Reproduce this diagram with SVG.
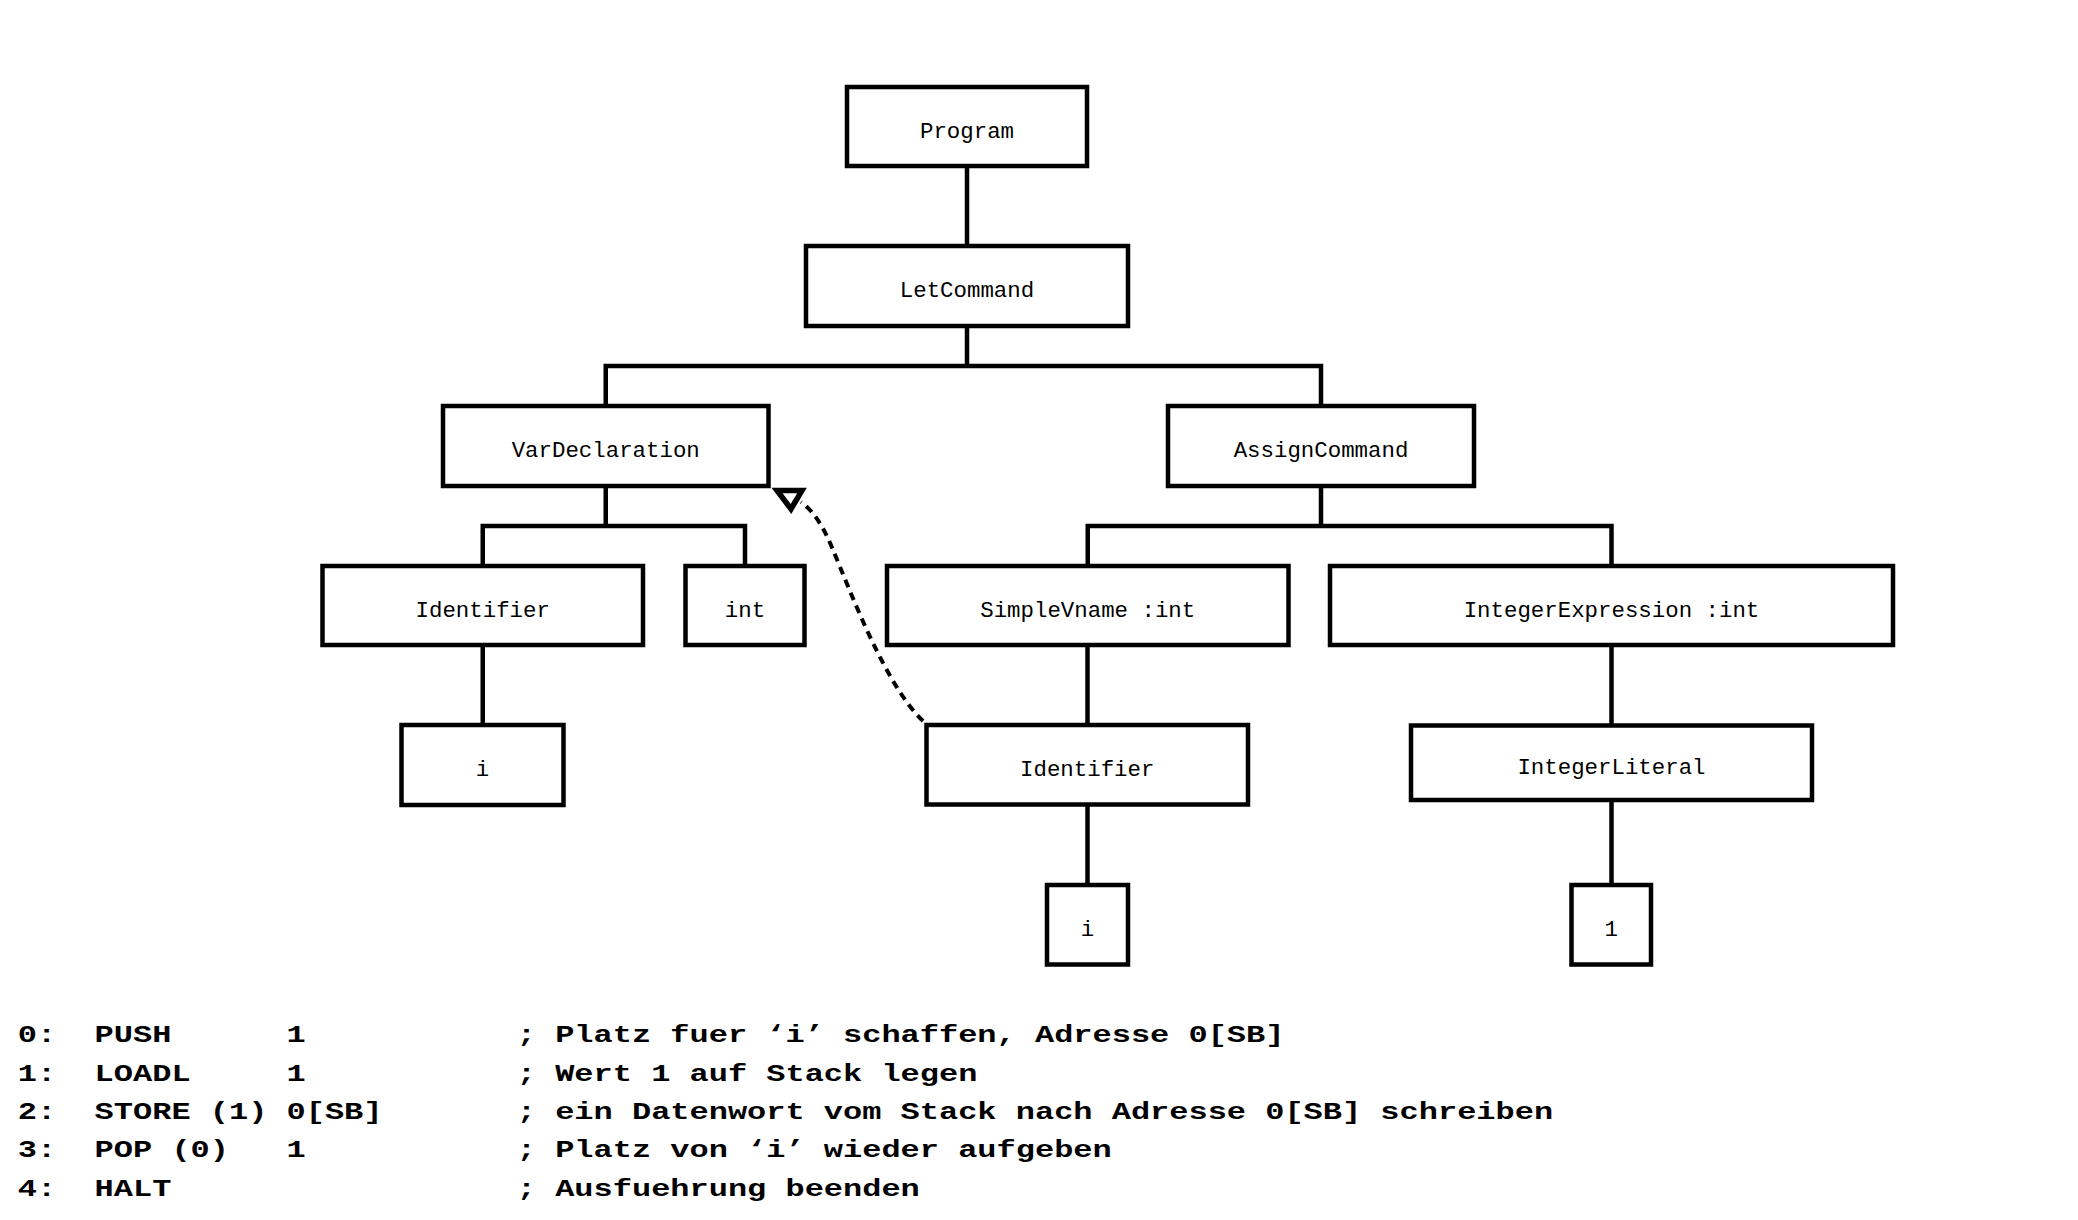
<svg xmlns="http://www.w3.org/2000/svg" width="2078" height="1220" viewBox="0 0 2078 1220">
  <style>
    .box { fill: #fff; stroke: #000; stroke-width: 4.5; }
    .lbl { font-family: "Liberation Mono", "Courier New", monospace; font-size: 22.4px; text-anchor: middle; fill: #000; }
    .edge { fill: none; stroke: #000; stroke-width: 4.5; stroke-linejoin: miter; stroke-linecap: butt; }
    .dash { fill: none; stroke: #000; stroke-width: 4; stroke-dasharray: 8 6; }
    .head { fill: #fff; stroke: #000; stroke-width: 5.5; stroke-linejoin: miter; }
    .code { font-family: "Liberation Mono", "Courier New", monospace; font-weight: bold; font-size: 24px; fill: #000; white-space: pre; }
  </style>
  <rect width="2078" height="1220" fill="#fff"/>
  <g id="connectors">
    <path class="edge" d="M967 166 V246"/>
    <path class="edge" d="M967 326 V366 M605.75 406 V366 H1321 V406"/>
    <path class="edge" d="M605.75 486 V526 M482.75 566 V526 H745 V566"/>
    <path class="edge" d="M1321 486 V526 M1087.75 566 V526 H1611.5 V566"/>
    <path class="edge" d="M482.75 645 V725"/>
    <path class="edge" d="M1087.5 645 V725"/>
    <path class="edge" d="M1087.5 804.5 V885"/>
    <path class="edge" d="M1611.5 645 V725.5"/>
    <path class="edge" d="M1611.5 800 V885"/>
    <path class="dash" d="M923 721 C885 685, 850 590, 833 550 C825 530, 815 512, 801 502"/>
    <polygon class="head" points="777,490.5 802,490.5 791,509"/>
  </g>
  <g id="n-program"><rect class="box" x="847" y="87" width="240" height="79"/><text class="lbl" x="967" y="137.5">Program</text></g>
  <g id="n-letcommand"><rect class="box" x="806" y="246" width="322" height="80"/><text class="lbl" x="967" y="297">LetCommand</text></g>
  <g id="n-vardeclaration"><rect class="box" x="443" y="406" width="325.5" height="80"/><text class="lbl" x="605.75" y="457">VarDeclaration</text></g>
  <g id="n-assigncommand"><rect class="box" x="1168" y="406" width="306" height="80"/><text class="lbl" x="1321" y="457">AssignCommand</text></g>
  <g id="n-identifier1"><rect class="box" x="322.5" y="566" width="320.5" height="79"/><text class="lbl" x="482.75" y="616.5">Identifier</text></g>
  <g id="n-int"><rect class="box" x="685.5" y="566" width="119" height="79"/><text class="lbl" x="745" y="616.5">int</text></g>
  <g id="n-simplevname"><rect class="box" x="887" y="566" width="401.5" height="79"/><text class="lbl" x="1087.75" y="616.5">SimpleVname :int</text></g>
  <g id="n-integerexpression"><rect class="box" x="1330" y="566" width="563" height="79"/><text class="lbl" x="1611.5" y="616.5">IntegerExpression :int</text></g>
  <g id="n-i1"><rect class="box" x="401.5" y="725" width="162" height="80"/><text class="lbl" x="482.5" y="775.5">i</text></g>
  <g id="n-identifier2"><rect class="box" x="926.5" y="725" width="321.5" height="79.5"/><text class="lbl" x="1087.25" y="775.5">Identifier</text></g>
  <g id="n-integerliteral"><rect class="box" x="1411" y="725.5" width="401" height="74.5"/><text class="lbl" x="1611.5" y="773.5">IntegerLiteral</text></g>
  <g id="n-i2"><rect class="box" x="1047" y="885" width="81" height="79.5"/><text class="lbl" x="1087.5" y="935.5">i</text></g>
  <g id="n-one"><rect class="box" x="1571.5" y="885" width="79.5" height="79.5"/><text class="lbl" x="1611.25" y="935.5">1</text></g>
  <g id="code" transform="scale(1.3333,1)">
    <text class="code" xml:space="preserve" x="13.4" y="1042.3">0:  PUSH      1           ; Platz fuer ‘i’ schaffen, Adresse 0[SB]</text>
    <text class="code" xml:space="preserve" x="13.4" y="1080.7">1:  LOADL     1           ; Wert 1 auf Stack legen</text>
    <text class="code" xml:space="preserve" x="13.4" y="1119.1">2:  STORE (1) 0[SB]       ; ein Datenwort vom Stack nach Adresse 0[SB] schreiben</text>
    <text class="code" xml:space="preserve" x="13.4" y="1157.5">3:  POP (0)   1           ; Platz von ‘i’ wieder aufgeben</text>
    <text class="code" xml:space="preserve" x="13.4" y="1195.9">4:  HALT                  ; Ausfuehrung beenden</text>
  </g>
</svg>
